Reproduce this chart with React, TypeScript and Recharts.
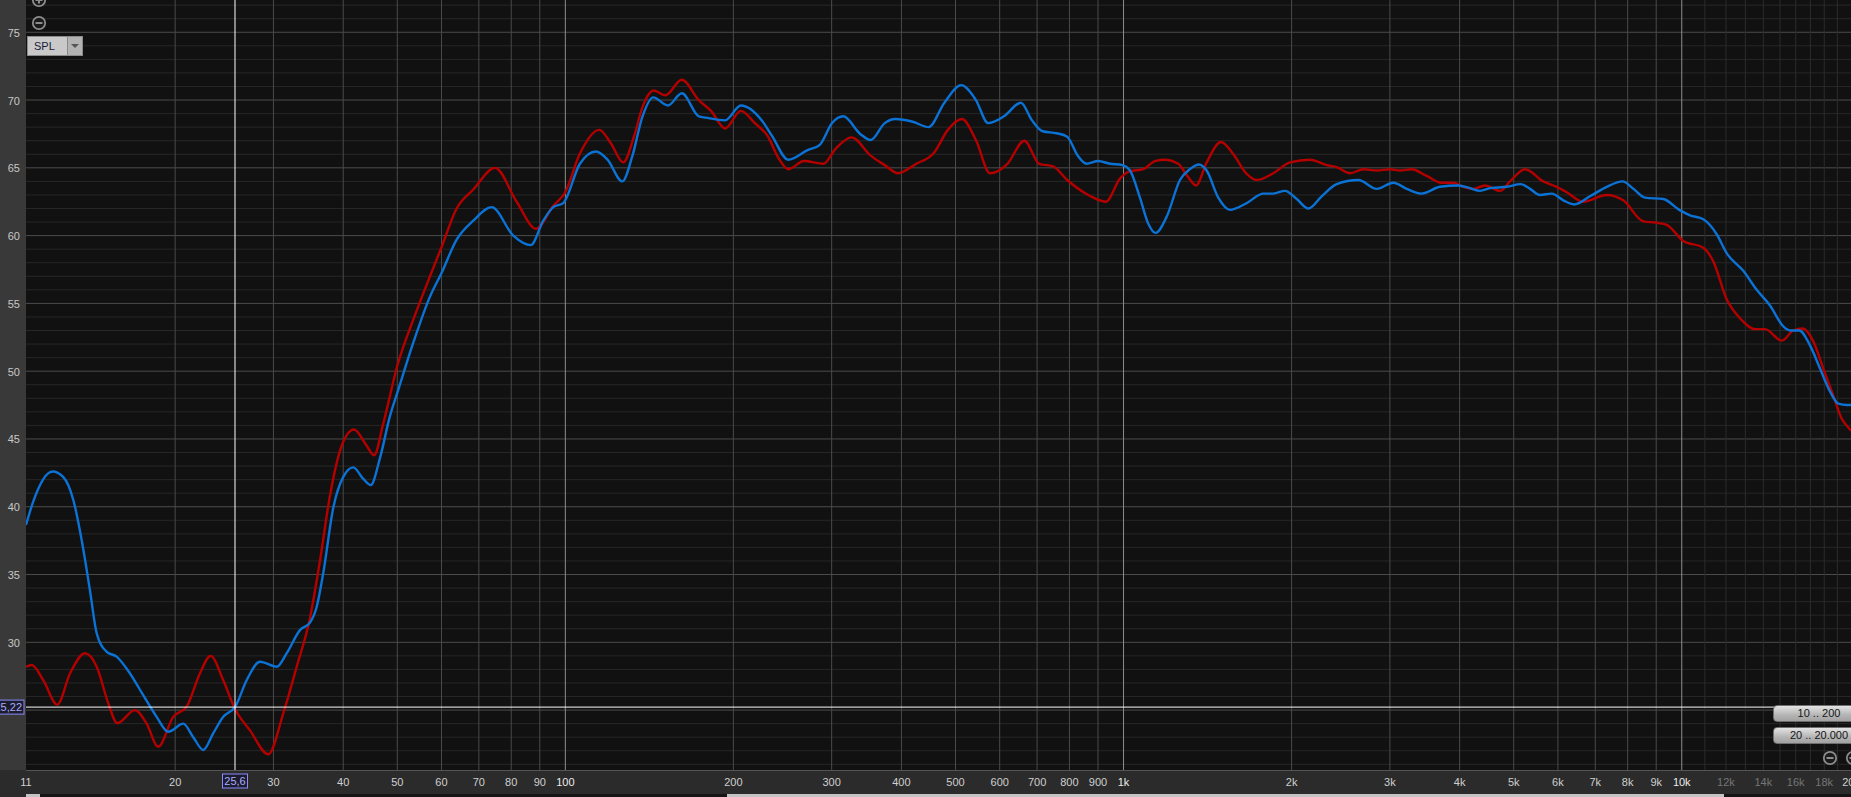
import { LineChart, Line, XAxis, YAxis, ReferenceLine } from 'recharts';

const FONT = "'Liberation Sans', Arial, sans-serif";

// visible frequency / level window
const F_MIN = 10.81;
const F_MAX = 20100;
const DB_MIN = 20.58;
const DB_MAX = 77.38;

// red trace
const redFreq = [
  10.81, 11.07, 11.61, 12.3, 12.96, 13.79, 14.47, 15.18, 15.75, 16.94,
  17.78, 18.65, 19.84, 20.97, 22.15, 23.15, 24.39, 25.59, 27.23, 29.37,
  31.24, 33.02, 34.88, 36.34, 37.87, 39.75, 41.82, 44.07, 45.42, 47.2,
  50.0, 53.41, 57.22, 59.95, 63.87, 68.41, 74.81, 81.81, 88.6, 95.16,
  99.97, 106.2, 115.0, 120.7, 127.0, 132.7, 137.5, 144.1, 151.1, 161.7,
  173.4, 182.4, 193.3, 206.3, 218.5, 229.9, 241.9, 250.7, 267.6, 289.8,
  304.9, 325.5, 352.4, 373.4, 394.5, 425.3, 457.3, 484.5, 513.4, 543.9,
  576.3, 619.5, 664.2, 706.0, 748.1, 792.6, 864.4, 929.4, 985.4, 1027,
  1085, 1138, 1186, 1253, 1306, 1348, 1409, 1495, 1573, 1662,
  1732, 1855, 1987, 2158, 2312, 2409, 2545, 2689, 2842, 3002,
  3129, 3283, 3492, 3715, 3897, 4061, 4231, 4442, 4725, 4925,
  5239, 5649, 5970, 6222, 6662, 7337, 7858, 8534, 9017, 9398,
  10064, 10930, 11389, 12036, 12716, 13529, 14098, 15103, 15842, 16469,
  17205, 17930, 18685, 19343, 19827, 20100,
];
const redDb = [
  28.2, 28.33, 27.2, 25.4, 27.7, 29.19, 28.2, 25.5, 24.03, 25.0,
  24.0, 22.3, 24.5, 25.25, 27.7, 29.0, 27.2, 25.1, 23.5, 21.74,
  24.76, 28.2, 31.8, 36.0, 40.8, 44.5, 45.7, 44.5, 43.8, 46.15,
  50.4, 53.8, 57.0, 59.1, 62.0, 63.4, 65.0, 62.5, 60.5, 62.2,
  63.2, 66.05, 67.8, 66.8, 65.4, 67.3, 69.5, 70.7, 70.35, 71.5,
  70.0, 69.2, 67.9, 69.2, 68.3, 67.4, 65.6, 64.9, 65.5, 65.3,
  66.4, 67.25, 65.9, 65.2, 64.6, 65.3, 66.1, 67.8, 68.6, 67.05,
  64.6, 65.3, 67.0, 65.3, 65.1, 64.1, 63.0, 62.5, 64.2, 64.75,
  64.9, 65.5, 65.6, 65.3, 64.3, 63.7, 65.4, 66.9, 66.0, 64.55,
  64.1, 64.6, 65.4, 65.6, 65.2, 65.05, 64.6, 64.9, 64.8, 64.9,
  64.8, 64.9, 64.4, 63.9, 63.9, 63.6, 63.45, 63.7, 63.3, 64.0,
  64.9, 64.0, 63.6, 63.2, 62.5, 63.0, 62.6, 61.05, 60.95, 60.8,
  59.6, 59.1, 58.1, 55.3, 53.9, 53.1, 53.1, 52.25, 53.0, 53.15,
  52.2, 50.2, 48.2, 46.5, 45.9, 45.6,
];

// blue trace
const blueFreq = [
  10.81, 11.14, 12.06, 12.6, 13.14, 13.6, 14.07, 14.47, 15.08, 15.71,
  16.6, 17.53, 18.53, 19.44, 20.68, 21.55, 22.46, 23.41, 24.39, 25.63,
  26.86, 28.38, 30.41, 31.69, 33.47, 34.88, 35.85, 36.84, 38.39, 40.01,
  41.7, 43.46, 44.81, 46.56, 48.52, 50.0, 53.41, 57.22, 59.95, 63.87,
  68.41, 73.8, 80.67, 86.7, 91.3, 95.16, 99.15, 106.2, 113.5, 119.0,
  126.5, 131.7, 137.5, 143.7, 152.7, 161.7, 173.4, 178.5, 193.3, 206.3,
  224.9, 235.0, 250.7, 271.6, 285.7, 300.5, 314.7, 337.5, 352.4, 373.4,
  390.0, 419.2, 447.5, 477.6, 511.9, 543.9, 572.0, 610.6, 654.7, 685.6,
  716.0, 759.0, 792.6, 827.7, 858.3, 900.4, 945.7, 994.8, 1027, 1070,
  1107, 1142, 1195, 1262, 1315, 1365, 1409, 1478, 1551, 1662,
  1780, 1855, 1946, 2043, 2143, 2264, 2409, 2634, 2842, 3043,
  3216, 3420, 3689, 3978, 4175, 4351, 4534, 4858, 5146, 5348,
  5573, 5848, 6135, 6412, 6848, 7337, 7839, 8189, 8594, 9266,
  9899, 10346, 10930, 11550, 12036, 12890, 13624, 14392, 15203, 15629,
  16240, 16973, 17688, 18433, 19075, 19747, 20100,
];
const blueDb = [
  38.65, 40.4, 42.6, 42.2, 40.5, 37.55, 33.86, 30.67, 29.3, 28.94,
  27.7, 26.1, 24.5, 23.4, 24.0, 23.0, 22.06, 23.3, 24.5, 25.25,
  27.2, 28.57, 28.2, 29.2, 30.9, 31.45, 32.6, 35.1, 39.9, 42.2,
  42.9, 42.05, 41.6, 43.6, 46.7, 48.4, 52.1, 55.5, 57.2, 59.7,
  61.1, 62.1, 60.0, 59.3, 61.1, 62.1, 62.4, 65.3, 66.2, 65.6,
  64.0, 65.8, 68.8, 70.2, 69.6, 70.5, 68.8, 68.7, 68.5, 69.6,
  68.5, 67.3, 65.6, 66.3, 66.7, 68.3, 68.8, 67.5, 67.05, 68.3,
  68.6, 68.4, 68.0, 69.8, 71.1, 70.0, 68.3, 68.8, 69.8, 68.5,
  67.7, 67.55, 67.3, 65.9, 65.3, 65.5, 65.3, 65.2, 64.8, 62.8,
  60.9, 60.2, 61.4, 64.1, 64.9, 65.25, 64.8, 62.8, 61.9, 62.4,
  63.1, 63.1, 63.3, 62.7, 62.0, 62.9, 63.8, 64.1, 63.45, 63.9,
  63.45, 63.1, 63.6, 63.7, 63.5, 63.3, 63.5, 63.6, 63.8, 63.45,
  63.0, 63.1, 62.6, 62.3, 62.9, 63.6, 64.0, 63.45, 62.8, 62.7,
  61.9, 61.5, 61.2, 60.1, 58.7, 57.4, 56.0, 54.85, 53.3, 53.0,
  53.0, 51.9, 50.2, 48.5, 47.6, 47.5, 47.5,
];

// axis ticks
const xTicks = [
  F_MIN, 20, 30, 40, 50, 60, 70, 80, 90, 100, 200, 300, 400, 500, 600, 700, 800, 900,
  1000, 2000, 3000, 4000, 5000, 6000, 7000, 8000, 9000, 10000, 12000, 14000, 16000, 18000, F_MAX,
];
const xTickLabels = [
  '11', '20', '30', '40', '50', '60', '70', '80', '90', '100', '200', '300', '400', '500', '600', '700', '800', '900',
  '1k', '2k', '3k', '4k', '5k', '6k', '7k', '8k', '9k', '10k', '12k', '14k', '16k', '18k', '20k',
];
const yTicks = [30, 35, 40, 45, 50, 55, 60, 65, 70, 75];

// grid
const decadeLines = [100, 1000, 10000];
const freqLines = [20, 30, 40, 50, 60, 70, 80, 90, 200, 300, 400, 500, 600, 700, 800, 900,
  2000, 3000, 4000, 5000, 6000, 7000, 8000, 9000];
const fineFreqLines = [11000, 12000, 13000, 14000, 15000, 16000, 17000, 18000, 19000];
const dbLines = Array.from({ length: 57 }, (_, i) => 21 + i);

// cursor
const cursorFreq = 25.6;
const cursorDb = 25.22;

const redData = redFreq.map((f, i) => ({ f, db: redDb[i] }));
const blueData = blueFreq.map((f, i) => ({ f, db: blueDb[i] }));

function FreqTick({ x, payload, index }: any) {
  const label = xTickLabels[index] ?? '';
  const v = payload.value;
  const dim = v > 10000 && v < F_MAX;
  const bright = v === 100 || v === 1000 || v === 10000;
  return (
    <text x={x} y={786} textAnchor="middle" fontSize={11} fontFamily={FONT}
      fill={dim ? '#767676' : bright ? '#ececec' : '#cfcfcf'}>
      {label}
    </text>
  );
}

function DbTick({ y, payload }: any) {
  return (
    <text x={20} y={y + 4.5} textAnchor="end" fontSize={11} fontFamily={FONT} fill="#c8c8c8">
      {payload.value}
    </text>
  );
}

function CursorXLabel({ viewBox }: any) {
  if (!viewBox) return null;
  const cx = viewBox.x;
  const top = viewBox.y + viewBox.height + 4;
  return (
    <g>
      <rect x={cx - 12.5} y={top} width={25} height={14} fill="#1c1c2c" stroke="#8a8cff" strokeWidth={1} />
      <text x={cx} y={top + 11} textAnchor="middle" fontSize={11} fontFamily={FONT} fill="#a9adff">25,6</text>
    </g>
  );
}

function CursorYLabel({ viewBox }: any) {
  if (!viewBox) return null;
  const cy = viewBox.y;
  const right = viewBox.x - 2;
  return (
    <g>
      <rect x={right - 32} y={cy - 7} width={32} height={14} fill="#1c1c2c" stroke="#8a8cff" strokeWidth={1} />
      <text x={right - 2} y={cy + 4} textAnchor="end" fontSize={11} fontFamily={FONT} fill="#a9adff">25,22</text>
    </g>
  );
}

function CircleIcon({ cx, cy, plus }: { cx: number; cy: number; plus?: boolean }) {
  return (
    <svg style={{ position: 'absolute', left: cx - 8, top: cy - 8 }} width={16} height={16}>
      <circle cx={8} cy={8} r={6.2} fill="#1a1a1a" stroke="#8c8c8c" strokeWidth={1.8} />
      <rect x={4.5} y={7} width={7} height={2} fill="#8c8c8c" />
      {plus && <rect x={7} y={4.5} width={2} height={7} fill="#8c8c8c" />}
    </svg>
  );
}

const buttonStyle: React.CSSProperties = {
  position: 'absolute',
  left: 1773,
  width: 92,
  height: 17,
  boxSizing: 'border-box',
  borderRadius: 4,
  border: '1px solid #6e6e6e',
  background: 'linear-gradient(#e4e4e4, #b4b4b4 60%, #a2a2a2)',
  color: '#151515',
  fontSize: 11,
  fontFamily: FONT,
  lineHeight: '15px',
  textAlign: 'center',
};

export default function App() {
  return (
    <div style={{ position: 'absolute', left: 0, top: 0, width: 1851, height: 797, overflow: 'hidden', background: '#2b2b2b' }}>
      <div style={{ position: 'absolute', left: 0, top: 0, width: 26, height: 770, background: '#393939' }} />
      <div style={{ position: 'absolute', left: 26, top: 0, width: 1825, height: 770, background: '#111111' }} />
      <div style={{ position: 'absolute', left: 26, top: 770, width: 1825, height: 1, background: '#555555' }} />

      <div style={{ position: 'absolute', left: 0, top: 0 }}>
        <LineChart width={1851} height={797} margin={{ top: 0, right: 0, bottom: 0, left: 0 }}>
          <XAxis dataKey="f" type="number" scale="log" domain={[F_MIN, F_MAX]} allowDataOverflow
            ticks={xTicks} interval={0} height={27} axisLine={false} tickLine={false} tick={<FreqTick />} />
          <YAxis type="number" domain={[DB_MIN, DB_MAX]} allowDataOverflow ticks={yTicks} interval={0}
            width={26} axisLine={false} tickLine={false} tick={<DbTick />} />

          {dbLines.map((d) => (
            <ReferenceLine key={'h' + d} y={d} stroke={d % 5 === 0 ? '#4c4c4c' : '#272727'} strokeWidth={1} />
          ))}
          {fineFreqLines.map((f) => (
            <ReferenceLine key={'ff' + f} x={f} stroke="#2c2c2c" strokeWidth={1} />
          ))}
          {freqLines.map((f) => (
            <ReferenceLine key={'f' + f} x={f} stroke="#4a4a4a" strokeWidth={1} />
          ))}
          {decadeLines.map((f) => (
            <ReferenceLine key={'d' + f} x={f} stroke="#8e8e8e" strokeWidth={1} />
          ))}

          <Line data={redData} dataKey="db" type="monotone" stroke="#b50000" strokeWidth={2.4}
            dot={false} activeDot={false} isAnimationActive={false} />
          <Line data={blueData} dataKey="db" type="monotone" stroke="#0b72d6" strokeWidth={2.4}
            dot={false} activeDot={false} isAnimationActive={false} />

          <ReferenceLine x={cursorFreq} stroke="#ffffff" strokeWidth={1} label={<CursorXLabel />} />
          <ReferenceLine y={cursorDb} stroke="#ffffff" strokeWidth={1} label={<CursorYLabel />} />
        </LineChart>
      </div>

      {/* top-left zoom icons and SPL selector */}
      <CircleIcon cx={38.7} cy={0} plus />
      <CircleIcon cx={38.7} cy={22.5} />
      <div style={{ position: 'absolute', left: 27, top: 36, width: 56, height: 20, boxSizing: 'border-box',
        border: '1px solid #8a8a8a', display: 'flex', fontFamily: FONT, fontSize: 11 }}>
        <div style={{ width: 39, background: '#c9c9c9', color: '#18183a', paddingLeft: 6, lineHeight: '18px', boxSizing: 'border-box' }}>SPL</div>
        <div style={{ width: 1, background: '#8a8a8a' }} />
        <div style={{ flex: 1, background: '#b3b3b3', position: 'relative' }}>
          <div style={{ position: 'absolute', left: 3, top: 7, width: 0, height: 0, borderLeft: '4.5px solid transparent',
            borderRight: '4.5px solid transparent', borderTop: '4px solid #555' }} />
        </div>
      </div>

      {/* range buttons */}
      <div style={{ ...buttonStyle, top: 705 }}>10 .. 200</div>
      <div style={{ ...buttonStyle, top: 727 }}>20 .. 20.000</div>
      <CircleIcon cx={1830.3} cy={757.8} />
      <CircleIcon cx={1853} cy={757.8} />

      {/* scrollbar */}
      <div style={{ position: 'absolute', left: 26, top: 794, width: 1825, height: 3, background: '#151515' }} />
      <div style={{ position: 'absolute', left: 26, top: 794, width: 14, height: 3, background: '#c4c4c4' }} />
      <div style={{ position: 'absolute', left: 727, top: 794, width: 997, height: 3, background: '#c4c4c4' }} />
    </div>
  );
}
